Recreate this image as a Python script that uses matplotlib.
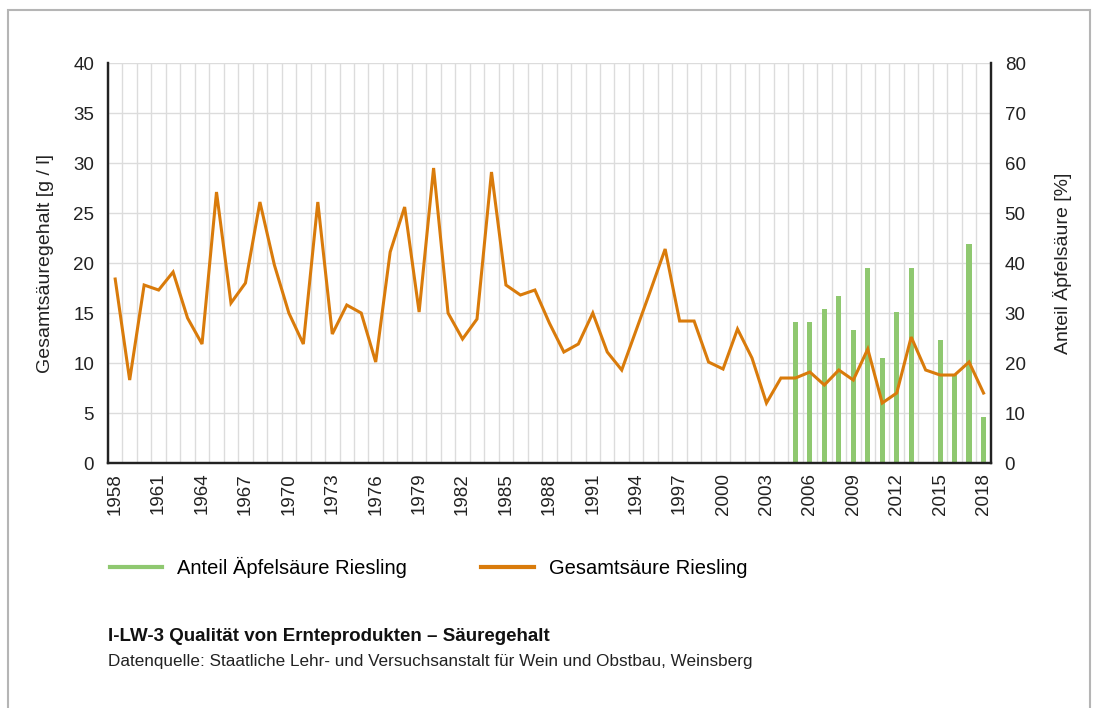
import numpy as np
import matplotlib
matplotlib.use("Agg")
import matplotlib.pyplot as plt
from matplotlib.lines import Line2D
from matplotlib.patches import Rectangle

plt.rcParams['font.family'] = ['Liberation Sans', 'DejaVu Sans']

# Data
years = list(range(1958, 2019))
gesamtsaeure = [18.4, 8.3, 17.8, 17.3, 19.1, 14.5, 11.9, 27.1, 16.0, 18.0,
                26.1, 19.8, 15.0, 11.9, 26.1, 12.9, 15.8, 15.0, 10.1, 21.1,
                25.6, 15.1, 29.5, 15.0, 12.4, 14.4, 29.1, 17.8, 16.8, 17.3,
                14.0, 11.1, 11.9, 15.0, 11.1, 9.3, 13.3, 17.3, 21.4, 14.2,
                14.2, 10.1, 9.4, 13.4, 10.5, 6.0, 8.5, 8.5, 9.1, 7.8,
                9.3, 8.3, 11.4, 6.0, 7.0, 12.6, 9.3, 8.8, 8.8, 10.1, 7.0]
apfel_years = [2005, 2006, 2007, 2008, 2009, 2010, 2011, 2012, 2013, 2015, 2016, 2017, 2018]
apfel_anteil = [28.3, 28.3, 30.9, 33.5, 26.7, 39.1, 21.1, 30.3, 39.1, 24.7, 17.6, 43.8, 9.3]

orange = '#d97b0b'
green = '#8fc870'

fig = plt.figure(figsize=(10.96, 7.08), dpi=100)
ax = fig.add_axes([0.0985, 0.346, 0.8055, 0.565])
ax2 = ax.twinx()

x = np.arange(len(years))
xb = [years.index(y) for y in apfel_years]

ax2.bar(xb, apfel_anteil, width=0.36, color=green, zorder=2)
ax.plot(x, gesamtsaeure, color=orange, linewidth=2.2, solid_joinstyle='miter', zorder=3)
# line axes on top of the bar axes
ax.set_zorder(ax2.get_zorder() + 1)
ax.patch.set_visible(False)

ax.set_xlim(-0.5, len(years) - 0.5)
ax.set_ylim(0, 40)
ax2.set_ylim(0, 80)
ax.set_yticks(np.arange(0, 41, 5))
ax2.set_yticks(np.arange(0, 81, 10))
ax.set_xticks(x[::3])
ax.set_xticklabels([str(y) for y in years[::3]], rotation=90)
ax.set_xticks(np.arange(-0.5, len(years), 1), minor=True)

# grid lines drawn on the back axes so they stay under the bars
ax2.xaxis.set_visible(True)
ax2.set_axisbelow(True)
ax2.xaxis.grid(True, which='minor', color='#dcdcdc', linewidth=1.0)
ax2.yaxis.grid(True, which='major', color='#dcdcdc', linewidth=1.0)
ax.grid(False)

for a in (ax, ax2):
    a.tick_params(which='both', length=0, labelsize=13.5, colors='#222222', pad=10)
    a.spines['top'].set_visible(False)
    for s in ('left', 'right', 'bottom'):
        a.spines[s].set_linewidth(1.6)
        a.spines[s].set_color('#222222')
ax.tick_params(axis='x', pad=7)
ax2.tick_params(axis='x', which='both', labelbottom=False, labeltop=False)

ax.set_ylabel('Gesamtsäuregehalt [g / l]', fontsize=14, color='#222222', labelpad=14)
ax2.set_ylabel('Anteil Äpfelsäure [%]', fontsize=14, color='#222222', labelpad=20)

handles = [Line2D([], [], color=green, linewidth=3),
           Line2D([], [], color=orange, linewidth=3)]
fig.legend(handles, ['Anteil Äpfelsäure Riesling', 'Gesamtsäure Riesling'],
           loc='center left', bbox_to_anchor=(0.0834, 0.199), ncol=2, frameon=False,
           fontsize=14.5, handlelength=2.6, handletextpad=0.75, columnspacing=3.7)

fig.text(0.0985, 0.101, 'I-LW-3 Qualität von Ernteprodukten – Säuregehalt',
         fontsize=13.5, fontweight='bold', color='#111111', va='center')
fig.text(0.0985, 0.066, 'Datenquelle: Staatliche Lehr- und Versuchsanstalt für Wein und Obstbau, Weinsberg',
         fontsize=12.3, color='#222222', va='center')

fig.add_artist(Rectangle((0.0075, -0.05), 0.987, 1.036, transform=fig.transFigure,
                         fill=False, edgecolor='#b5b5b5', linewidth=1.5))

fig.savefig('out.png', dpi=100)
